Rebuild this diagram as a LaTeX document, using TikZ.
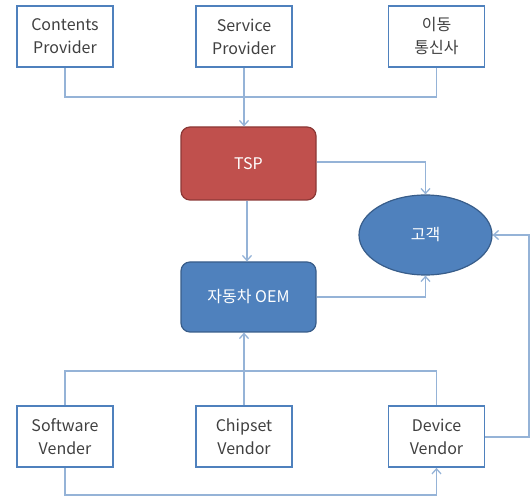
\documentclass[tikz,border=0pt]{standalone}
\usepackage{fontspec}
\setmainfont{Noto Sans CJK KR}
\usetikzlibrary{arrows.meta,shapes.geometric}
\definecolor{boxline}{HTML}{4F81BD}
\definecolor{wire}{HTML}{95B3D7}
\definecolor{tspfill}{HTML}{C0504D}
\definecolor{tspline}{HTML}{8C3836}
\definecolor{oemfill}{HTML}{4F81BD}
\definecolor{oemline}{HTML}{385D8A}
\definecolor{ink}{HTML}{404040}
\tikzset{
  party/.style={draw=boxline, line width=1.8pt, fill=white, minimum width=96pt,
    minimum height=61pt, text=ink, align=center, font=\fontsize{16}{23}\selectfont, inner sep=0pt},
  core/.style={rounded corners=9pt, line width=1.2pt, minimum width=135pt,
    inner sep=0pt, text=white, font=\fontsize{16}{23}\selectfont},
  wireline/.style={draw=wire, line width=1.5pt},
  flow/.style={wireline, -{Straight Barb[length=5pt,width=9pt,line width=1.3pt]}}
}
\begin{document}
\begin{tikzpicture}[x=1pt,y=-1pt]
\useasboundingbox (0,0) rectangle (531,497);
% suppliers on top
\node[party] (cp) at (65,36.5) {Contents\\Provider};
\node[party] (sp) at (244,36.5) {Service\\Provider};
\node[party] (mc) at (436.5,36.5) {이동\\통신사};
% central actors
\node[core, draw=tspline, fill=tspfill, minimum height=73pt] (tsp) at (248.5,163.5) {TSP};
\node[core, draw=oemline, fill=oemfill, minimum height=70pt] (oem) at (248.5,297) {자동차 OEM};
\node[ellipse, draw=oemline, fill=oemfill, line width=1.2pt, minimum width=133pt,
  minimum height=80pt, inner sep=0pt, text=white, font=\fontsize{16}{23}\selectfont] (cust) at (425.5,235) {고객};
% vendors at the bottom
\node[party] (sw) at (65,436.5) {Software\\Vender};
\node[party] (cv) at (244,436.5) {Chipset\\Vendor};
\node[party] (dv) at (436.5,436.5) {Device\\Vendor};
% helper points
\coordinate (topbus) at (244,97);
\coordinate (botbus) at (244,371);
\coordinate (edge) at (529,0);
\coordinate (floor) at (0,495);
% top bus into TSP
\draw[wireline] (cp.south) |- (topbus -| mc.south) -- (mc.south);
\draw[flow] (sp.south) -- (tsp.north -| sp.south);
% TSP and OEM to customer
\draw[flow] (tsp.east |- 0,162) -| (cust.north);
\draw[flow] (tsp.south -| 247,0) -- (oem.north -| 247,0);
\draw[flow] (oem.east |- 0,297) -| (cust.south);
% bottom bus into OEM
\draw[wireline] (sw.north) |- (botbus -| dv.north) -- (dv.north);
\draw[flow] (cv.north) -- (oem.south -| cv.north);
% device vendor back to customer
\draw[flow] (dv.east |- 0,437) -| (edge |- cust.east) -- (cust.east);
% software vender down and into device vendor
\draw[flow] (sw.south) |- (floor -| dv.south) -- (dv.south);
\end{tikzpicture}
\end{document}
